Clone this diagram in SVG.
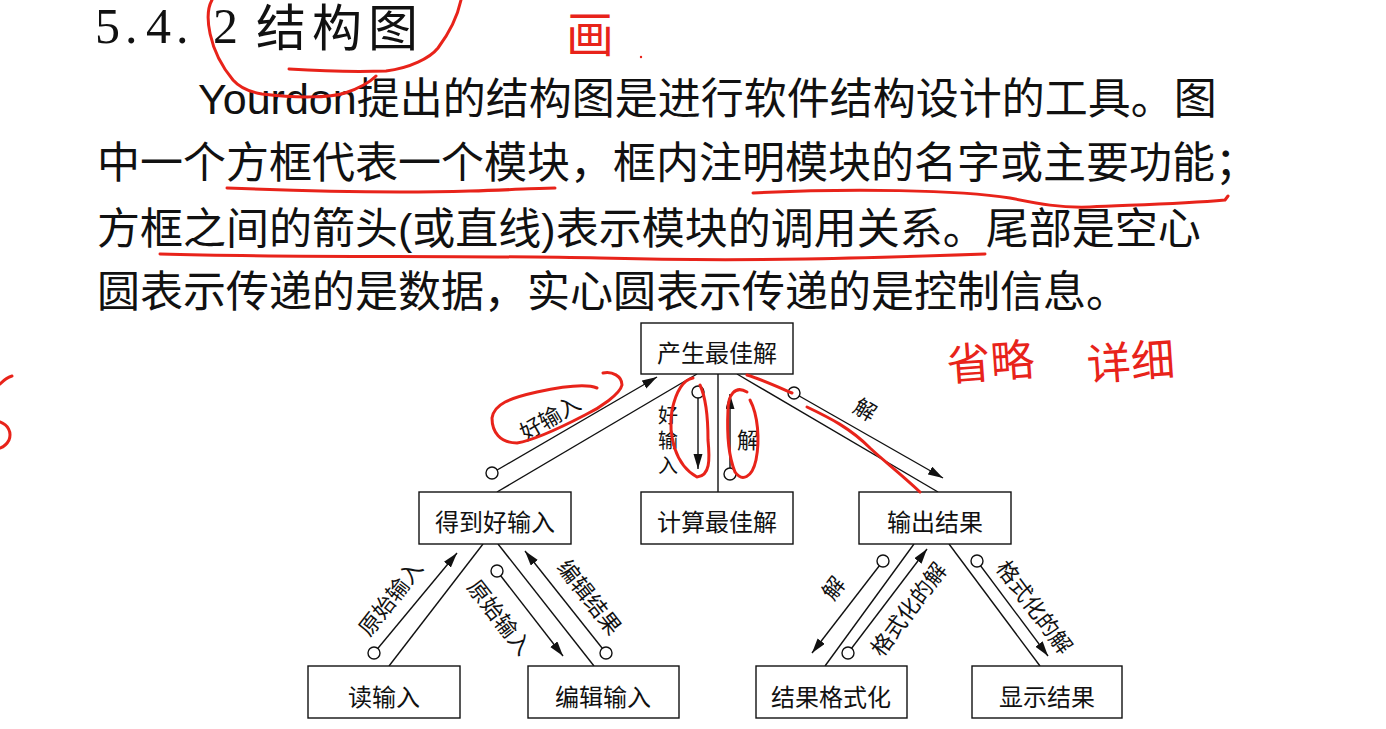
<svg xmlns="http://www.w3.org/2000/svg" width="1386" height="729" viewBox="0 0 1386 729">
<defs>
<style>
.cjk{font-family:"Noto Sans CJK SC","Noto Sans",sans-serif;fill:#111}
.para{font-size:43px}
.box{fill:#fff;stroke:#111;stroke-width:1.4}
.nt{font-family:"Noto Sans CJK SC",sans-serif;font-size:24px;fill:#111;text-anchor:middle;dominant-baseline:central}
.lbl{font-family:"Noto Sans CJK SC",sans-serif;font-size:22px;fill:#111;text-anchor:middle;dominant-baseline:central}
.conn{stroke:#111;stroke-width:1.4;fill:none}
.arr{stroke:#111;stroke-width:1.4;fill:none;marker-end:url(#ah)}
.dot{fill:#fff;stroke:#111;stroke-width:1.4}
.red{stroke:#e8231a;stroke-width:3;fill:none;stroke-linecap:round;stroke-linejoin:round}
.hw{font-family:"Noto Sans CJK SC",sans-serif;fill:#e8231a}
</style>
<marker id="ah" markerUnits="userSpaceOnUse" markerWidth="16" markerHeight="10" refX="15" refY="4.5" orient="auto">
<path d="M0,0 L15,4.5 L0,9 z" fill="#111"/>
</marker>
</defs>
<rect width="1386" height="729" fill="#fff"/>

<g id="title">
<text x="95 125 138 146 176 190 213" y="43" style="font-family:'Liberation Serif',serif;font-size:50px;fill:#111">5. 4. 2</text>
<text x="256" y="46" class="cjk" style="font-size:50px;letter-spacing:6px">结构图</text>
</g>

<g id="paragraph" class="cjk para">
<text x="198" y="114"><tspan style="font-family:'Liberation Sans',sans-serif">Yourdon</tspan>提出的结构图是进行软件结构设计的工具。图</text>
<text x="97" y="178">中一个方框代表一个模块，框内注明模块的名字或主要功能；</text>
<text x="97" y="244">方框之间的箭头<tspan style="font-family:'Liberation Sans',sans-serif">(</tspan>或直线<tspan style="font-family:'Liberation Sans',sans-serif">)</tspan>表示模块的调用关系。尾部是空心</text>
<text x="97" y="307">圆表示传递的是数据，实心圆表示传递的是控制信息。</text>
</g>

<g id="connectors">
<line class="conn" x1="697" y1="374" x2="497" y2="492"/>
<line class="conn" x1="718" y1="374" x2="718" y2="492"/>
<line class="conn" x1="737" y1="374" x2="938" y2="492"/>
<line class="conn" x1="483" y1="544" x2="389" y2="666"/>
<line class="conn" x1="498" y1="544" x2="594" y2="666"/>
<line class="conn" x1="914" y1="544" x2="825" y2="666"/>
<line class="conn" x1="949" y1="544" x2="1040" y2="666"/>

<line class="arr" x1="492" y1="473" x2="657" y2="377"/>
<circle class="dot" cx="492" cy="473" r="6"/>
<line class="arr" x1="698" y1="392" x2="698" y2="469"/>
<circle class="dot" cx="698" cy="392" r="6"/>
<line class="arr" x1="730" y1="474" x2="730" y2="394"/>
<circle class="dot" cx="730" cy="474" r="6"/>
<line class="arr" x1="794" y1="393" x2="943" y2="478"/>
<circle class="dot" cx="794" cy="393" r="6"/>

<line class="arr" x1="374" y1="653" x2="457" y2="553"/>
<circle class="dot" cx="374" cy="653" r="6"/>
<line class="arr" x1="497" y1="571" x2="563" y2="656"/>
<circle class="dot" cx="497" cy="571" r="6"/>
<line class="arr" x1="606" y1="653" x2="525" y2="551"/>
<circle class="dot" cx="606" cy="653" r="6"/>

<line class="arr" x1="883" y1="561" x2="812" y2="653"/>
<circle class="dot" cx="883" cy="561" r="6"/>
<line class="arr" x1="848" y1="653" x2="927" y2="549"/>
<circle class="dot" cx="848" cy="653" r="6"/>
<line class="arr" x1="977" y1="561" x2="1048" y2="656"/>
<circle class="dot" cx="977" cy="561" r="6"/>

<text class="lbl" transform="translate(549,416) rotate(-30.5)">好输入</text>
<text x="668" y="405" style="font-family:'Noto Sans CJK SC',sans-serif;font-size:20px;fill:#111;writing-mode:vertical-rl;letter-spacing:5px">好输入</text>
<text class="lbl" x="748" y="438">解</text>
<text class="lbl" transform="translate(866,408) rotate(30.5)">解</text>
<text class="lbl" transform="translate(389,597) rotate(-52)">原始输入</text>
<text class="lbl" transform="translate(501,616) rotate(52)">原始输入</text>
<text class="lbl" transform="translate(591,596) rotate(52)">编辑结果</text>
<text class="lbl" transform="translate(832,587) rotate(-53)">解</text>
<text class="lbl" transform="translate(907,608) rotate(-53)">格式化的解</text>
<text class="lbl" transform="translate(1036,606) rotate(53)">格式化的解</text>
</g>

<g id="node-produce"><rect class="box" x="641" y="323" width="152" height="51"/><text class="nt" x="717" y="351">产生最佳解</text></g>
<g id="node-getinput"><rect class="box" x="419" y="492" width="152" height="52"/><text class="nt" x="495" y="520">得到好输入</text></g>
<g id="node-compute"><rect class="box" x="641" y="492" width="152" height="52"/><text class="nt" x="717" y="520">计算最佳解</text></g>
<g id="node-output"><rect class="box" x="859" y="492" width="152" height="52"/><text class="nt" x="935" y="520">输出结果</text></g>
<g id="node-read"><rect class="box" x="308" y="666" width="152" height="52"/><text class="nt" x="384" y="695">读输入</text></g>
<g id="node-edit"><rect class="box" x="528" y="666" width="151" height="52"/><text class="nt" x="603" y="695">编辑输入</text></g>
<g id="node-format"><rect class="box" x="756" y="666" width="151" height="52"/><text class="nt" x="831" y="695">结果格式化</text></g>
<g id="node-display"><rect class="box" x="972" y="666" width="150" height="52"/><text class="nt" x="1047" y="695">显示结果</text></g>

<g id="annotations">
<path class="red" d="M212,0 C204,14 208,50 233,80 C240,88 250,92 262,94 C295,98 330,98 345,93 C360,88 370,82 376,76"/>
<path class="red" d="M289,69 C320,71 360,72 386,71 C410,68 430,58 438,48 C450,32 458,14 461,0"/>
<text class="hw" x="566" y="52" style="font-size:48px">画</text>
<circle cx="641" cy="57" r="1.2" fill="#e8231a"/>
<path class="red" d="M227,188 C300,191 400,193 470,191 C510,190 540,188 555,188"/>
<path class="red" d="M753,193 C850,188 960,190 1010,198 C1040,204 1060,208 1090,207 C1130,205 1180,204 1225,200 L1228,196"/>
<path class="red" d="M160,254 C300,258 450,255 600,258 C750,262 870,258 985,254"/>
<path class="red" d="M603,373 C612,371 622,376 622,385 C620,394 600,408 585,415 C560,428 535,440 517,443 C500,443 492,432 492,418 C494,404 510,398 537,392 C560,387 585,383 597,388"/>
<path class="red" d="M693,378 C682,380 676,392 672,410 C668,435 675,465 697,477 C710,476 710,460 708,440 C708,420 707,400 700,385"/>
<path class="red" d="M747,392 C735,385 728,395 728,410 C727,430 728,455 735,472 C742,482 752,478 756,460 C760,440 758,415 750,400"/>
<path class="red" d="M747,375 C760,379 778,387 792,393"/>
<path class="red" d="M807,407 C830,418 850,428 870,448 C885,462 900,473 920,492"/>
<text class="hw" x="946" y="378" style="font-size:44px" transform="rotate(-4 990 355)">省略</text>
<text class="hw" x="1086" y="378" style="font-size:44px" transform="rotate(-4 1128 350)">详细</text>
<path class="red" d="M0,384 C4,380 8,377 12,376"/>
<path class="red" d="M0,422 C8,425 12,432 9,440 C7,444 3,447 0,448"/>
</g>
</svg>
